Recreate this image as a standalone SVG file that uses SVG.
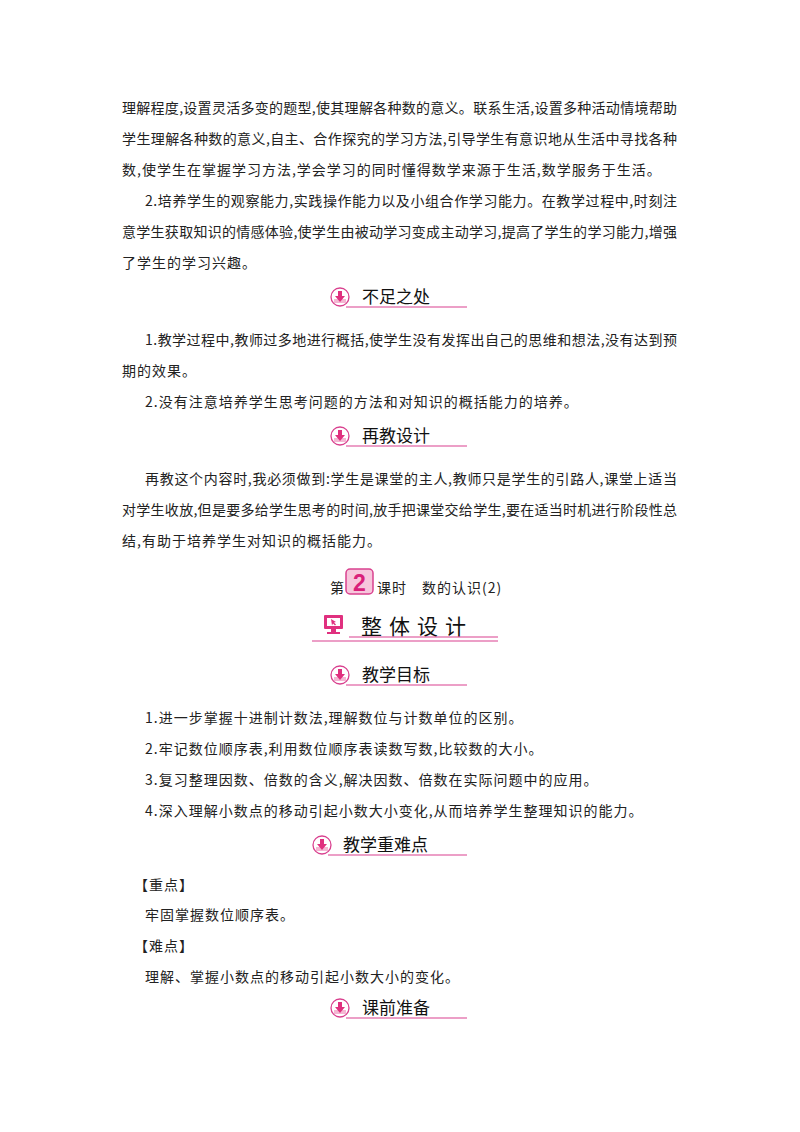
<svg xmlns="http://www.w3.org/2000/svg" width="800" height="1132" viewBox="0 0 800 1132">
<style>
.t{font-family:"Noto Sans CJK SC","Liberation Serif",serif;font-size:14px;fill:#222;letter-spacing:1px}
.h{font-family:"Noto Sans CJK SC",sans-serif;font-size:17px;fill:#111}
.ul{stroke:#d9418f;stroke-width:1.2}
</style>
<defs>
<g id="ic">
<circle r="9" fill="#fff" stroke="#d9418f" stroke-width="1.3"/>
<path d="M-6,2 L-6,6 L6,6 L6,2" fill="#f4b6d2"/>
<path d="M-2,-6 h4 v5 h3 l-5,6 l-5,-6 h3z" fill="#e0307f"/>
</g>
</defs>
<rect width="800" height="1132" fill="#fff"/>
<g class="t">
<text x="122" y="113" textLength="556" lengthAdjust="spacing">理解程度,设置灵活多变的题型,使其理解各种数的意义。联系生活,设置多种活动情境帮助</text>
<text x="122" y="144" textLength="556" lengthAdjust="spacing">学生理解各种数的意义,自主、合作探究的学习方法,引导学生有意识地从生活中寻找各种</text>
<text x="122" y="175">数,使学生在掌握学习方法,学会学习的同时懂得数学来源于生活,数学服务于生活。</text>
<text x="145" y="206" textLength="533" lengthAdjust="spacing">2.培养学生的观察能力,实践操作能力以及小组合作学习能力。在教学过程中,时刻注</text>
<text x="122" y="237" textLength="556" lengthAdjust="spacing">意学生获取知识的情感体验,使学生由被动学习变成主动学习,提高了学生的学习能力,增强</text>
<text x="122" y="268">了学生的学习兴趣。</text>
<text x="145" y="345" textLength="533" lengthAdjust="spacing">1.教学过程中,教师过多地进行概括,使学生没有发挥出自己的思维和想法,没有达到预</text>
<text x="122" y="376">期的效果。</text>
<text x="145" y="407">2.没有注意培养学生思考问题的方法和对知识的概括能力的培养。</text>
<text x="145" y="484" textLength="533" lengthAdjust="spacing">再教这个内容时,我必须做到:学生是课堂的主人,教师只是学生的引路人,课堂上适当</text>
<text x="122" y="515" textLength="556" lengthAdjust="spacing">对学生收放,但是要多给学生思考的时间,放手把课堂交给学生,要在适当时机进行阶段性总</text>
<text x="122" y="546">结,有助于培养学生对知识的概括能力。</text>
<text x="145" y="723">1.进一步掌握十进制计数法,理解数位与计数单位的区别。</text>
<text x="145" y="754">2.牢记数位顺序表,利用数位顺序表读数写数,比较数的大小。</text>
<text x="145" y="785">3.复习整理因数、倍数的含义,解决因数、倍数在实际问题中的应用。</text>
<text x="145" y="816">4.深入理解小数点的移动引起小数大小变化,从而培养学生整理知识的能力。</text>
<text x="134" y="890">【重点】</text>
<text x="145" y="920">牢固掌握数位顺序表。</text>
<text x="134" y="951">【难点】</text>
<text x="145" y="982">理解、掌握小数点的移动引起小数大小的变化。</text>
</g>
<g id="h1"><use href="#ic" x="340" y="297"/><text class="h" x="362" y="303">不足之处</text><line class="ul" x1="346" y1="307" x2="467" y2="307"/></g>
<g id="h2"><use href="#ic" x="340" y="436"/><text class="h" x="362" y="442">再教设计</text><line class="ul" x1="346" y1="446" x2="467" y2="446"/></g>
<g id="lesson">
<text class="t" x="330" y="593">第</text>
<rect x="346" y="569" width="27" height="25" rx="4" fill="#f7c6dc" stroke="#d9418f" stroke-width="1.5"/>
<text x="359.5" y="591" text-anchor="middle" font-family="Liberation Sans,sans-serif" font-weight="bold" font-size="23" fill="#d9207a">2</text>
<text class="t" x="377" y="593" letter-spacing="0">课时　数的认识(2)</text>
</g>
<g id="h3">
<rect x="324" y="615" width="19" height="14" rx="1" fill="#e0307f"/>
<rect x="327" y="618" width="13" height="8" fill="#fff"/>
<rect x="331" y="629" width="5" height="3" fill="#e0307f"/><rect x="327" y="632" width="13" height="2" fill="#e0307f"/>
<path d="M331,619 l5,3 l-2,0.5 l2,2 l-1,1 l-2,-2 l-1,2z" fill="#e0307f"/>
<text x="361" y="634" font-family="Noto Sans CJK SC,sans-serif" font-size="21" letter-spacing="7" fill="#111">整体设计</text>
<line class="ul" x1="312" y1="641" x2="498" y2="641"/>
<line class="ul" x1="349" y1="637" x2="498" y2="637" stroke-width="0.8"/>
</g>
<g id="h4"><use href="#ic" x="340" y="675"/><text class="h" x="362" y="681">教学目标</text><line class="ul" x1="346" y1="685" x2="467" y2="685"/></g>
<g id="h5"><use href="#ic" x="322" y="845"/><text class="h" x="343" y="851">教学重难点</text><line class="ul" x1="328" y1="855" x2="467" y2="855"/></g>
<g id="h6"><use href="#ic" x="340" y="1008"/><text class="h" x="362" y="1014">课前准备</text><line class="ul" x1="346" y1="1018" x2="467" y2="1018"/></g>
</svg>
